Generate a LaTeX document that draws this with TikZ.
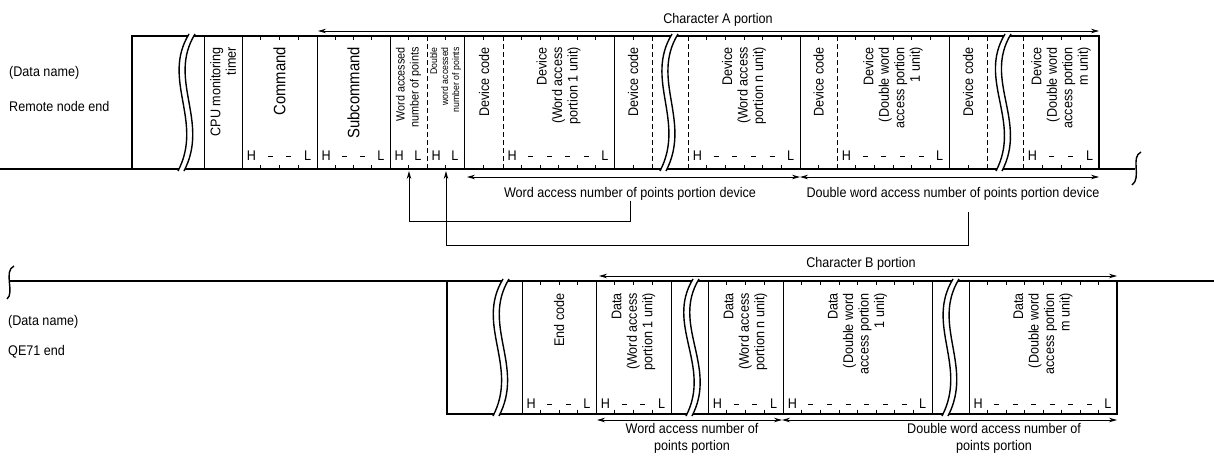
\documentclass[tikz,border=0pt]{standalone}
\usepackage{fontspec}
\setmainfont{Liberation Sans}[FakeStretch=0.9]
\usetikzlibrary{arrows.meta}
\newcommand\tix[5]{%
  \pgfmathsetmacro\tkw{(#2-#1)/#3}%
  \pgfmathtruncatemacro\tkm{#3-1}%
  \foreach \k in {1,...,\tkm}{%
    \draw[tick] ({#1+\k*\tkw},#4) -- ++(0,4);
    \draw[tick] ({#1+\k*\tkw},#5) -- ++(0,-4);
  }%
}
\newcommand\hlab[5]{%
  \pgfmathsetmacro\tkw{(#2-#1)/#3}%
  \node[hl] (H#5) at ({#1+0.5*\tkw},#4) {H};
  \node[hl] (L#5) at ({#2-0.5*\tkw},#4) {L};
  \ifnum#3>2
    \pgfmathtruncatemacro\tkm{#3-1}%
    \foreach \k in {2,...,\tkm}{%
      \draw[hdash] ({#1+(\k-0.5)*\tkw-2.5},#4) -- ++(5,0);
    }%
  \fi
}
\newcommand\mybrk[4]{%
  \pgfmathsetmacro\brkh{#3-#2}%
  \fill[white] (#1,#2-2) .. controls ({#1-28},{#2+0.33*\brkh}) and ({#1+26+#4},{#2+0.64*\brkh}) .. ({#1+#4},#3+2)
     -- ({#1+#4+6},#3+2) .. controls ({#1+32+#4},{#2+0.64*\brkh}) and ({#1-22},{#2+0.33*\brkh}) .. ({#1+6},#2-2) -- cycle;
  \draw[brkline] (#1,#2-2) .. controls ({#1-28},{#2+0.33*\brkh}) and ({#1+26+#4},{#2+0.64*\brkh}) .. ({#1+#4},#3+2);
  \draw[brkline] ({#1+6},#2-2) .. controls ({#1-22},{#2+0.33*\brkh}) and ({#1+32+#4},{#2+0.64*\brkh}) .. ({#1+#4+6},#3+2);
}
\begin{document}
\begin{tikzpicture}[x=1pt,y=-1pt,
  frame/.style={line width=1.8pt, line join=miter},
  sep/.style={line width=0.7pt},
  dsep/.style={line width=0.8pt, dash pattern=on 4.5pt off 3.5pt},
  tick/.style={line width=0.7pt},
  hdash/.style={line width=0.7pt},
  brkline/.style={line width=1.4pt},
  squig/.style={line width=1.4pt},
  dim/.style={line width=0.8pt, {Stealth[length=8pt,width=4.5pt]}-{Stealth[length=8pt,width=4.5pt]}},
  upar/.style={line width=0.8pt, -{Stealth[length=8pt,width=4.5pt]}},
  vt/.style={rotate=90, anchor=east, align=right, inner sep=0pt, font=\fontsize{14}{15.5}\selectfont},
  vtb/.style={vt, font=\fontsize{16.5}{18}\selectfont},
  vts/.style={vt, font=\fontsize{12}{14}\selectfont},
  vtt/.style={vt, font=\fontsize{9.7}{11}\selectfont},
  lab/.style={inner sep=0pt, align=center, font=\fontsize{14}{17}\selectfont},
  hl/.style={inner sep=0pt, font=\fontsize{14}{14}\selectfont},
]
\useasboundingbox (0,0) rectangle (1214,455);

% ================= top frame (Remote node end) =================
\draw[frame] (0,169) -- (1135,169);
\draw[frame] (132,169) -- (132,36) -- (1099,36) -- (1099,169);
\draw[squig] (1141,152) .. controls (1130,157) and (1142,178) .. (1132,185);

\foreach \x in {204,242,317,390,464,614,800,949} \draw[sep] (\x,36) -- (\x,169);
\foreach \x in {427,503,652,688,837,987,1023} \draw[dsep] (\x,36) -- (\x,169);

\tix{242}{317}{4}{36}{169}
\tix{317}{390}{4}{36}{169}
\tix{390}{427}{2}{36}{169}
\tix{427}{464}{2}{36}{169}
\tix{464}{503}{2}{36}{169}
\tix{503}{614}{6}{36}{169}
\tix{614}{652}{2}{36}{169}
\tix{688}{800}{6}{36}{169}
\tix{800}{837}{2}{36}{169}
\tix{837}{949}{6}{36}{169}
\tix{949}{987}{2}{36}{169}
\tix{1023}{1099}{4}{36}{169}

\mybrk{189}{36}{169}{-11}
\mybrk{672}{36}{169}{-12}
\mybrk{1005}{36}{169}{-9}

\hlab{242}{317}{4}{156}{a}
\hlab{317}{390}{4}{156}{b}
\hlab{390}{427}{2}{156}{c}
\hlab{427}{464}{2}{156}{d}
\hlab{503}{614}{6}{156}{e}
\hlab{688}{800}{6}{156}{f}
\hlab{837}{949}{6}{156}{g}
\hlab{1023}{1099}{4}{156}{h}

\node[vt] (cpu) at (223,47) {CPU monitoring\\timer};
\node[vtb] (cmd) at (279.5,47) {Command};
\node[vtb] (sub) at (353.5,47) {Subcommand};
\node[vts] (wan) at (408.5,47) {Word accessed\\number of points};
\node[vtt] (dwan) at (445.5,47) {Double\\word accessed\\number of points};
\node[vt] (dc1) at (484,47) {Device code};
\node[vt] (dv1) at (558.5,47) {Device\\(Word access\\portion 1 unit)};
\node[vt] (dc2) at (633,47) {Device code};
\node[vt] (dvn) at (744,47) {Device\\(Word access\\portion n unit)};
\node[vt] (dc3) at (818.5,47) {Device code};
\node[vt] (dvd1) at (893,47) {Device\\(Double word\\access portion\\1 unit)};
\node[vt] (dc4) at (968,47) {Device code};
\node[vt] (dvdm) at (1061,47) {Device\\(Double word\\access portion\\m unit)};

\node[lab, anchor=west] (dn1) at (9,73) {(Data name)};
\node[lab, anchor=west] (rne) at (9,106) {Remote node end};

% Character A portion
\coordinate (caL) at (318,31);
\coordinate (caR) at (1099,31);
\draw[dim] (caL) -- (caR);
\node[lab] (cat) at (718,20) {Character A portion};

% arrows below the top frame
\coordinate (wdL) at (467,177);
\coordinate (wdM) at (800,177);
\coordinate (wdR) at (1099,177);
\draw[dim] (wdL) -- (wdM);
\draw[dim] (wdM) -- (wdR);
\node[lab] (wtxt) at (630,194) {Word access number of points portion device};
\node[lab] (dtxt) at (953,194) {Double word access number of points portion device};

\coordinate (wa) at (409,171);
\coordinate (da) at (446,171);
\coordinate (c1) at (409,221);
\coordinate (c2) at (446,245);
\coordinate (c3) at (968,245);
\draw[upar] (wtxt.south) |- (c1) -- (wa);
\draw[upar] ([yshift=-11pt]dtxt.south -| c3) -- (c3) -- (c2) -- (da);

% ================= bottom frame (QE71 end) =================
\draw[frame] (10,281) -- (1214,281);
\draw[frame] (447,281) -- (447,414) -- (1117,414) -- (1117,281);
\draw[squig] (14,266) .. controls (3,271) and (15,293) .. (7,299);

\foreach \x in {522,596,671,708,783,932,969} \draw[sep] (\x,281) -- (\x,414);

\tix{522}{596}{4}{281}{414}
\tix{596}{671}{4}{281}{414}
\tix{708}{783}{4}{281}{414}
\tix{783}{932}{8}{281}{414}
\tix{969}{1117}{8}{281}{414}

\mybrk{503}{281}{414}{-10}
\mybrk{693}{281}{414}{-7}
\mybrk{953}{281}{414}{-11}

\hlab{522}{596}{4}{404}{i}
\hlab{596}{671}{4}{404}{j}
\hlab{708}{783}{4}{404}{k}
\hlab{783}{932}{8}{404}{l}
\hlab{969}{1117}{8}{404}{m}

\node[vt] (endc) at (559,293) {End code};
\node[vt] (d1) at (633.5,293) {Data\\(Word access\\portion 1 unit)};
\node[vt] (dn) at (745.5,293) {Data\\(Word access\\portion n unit)};
\node[vt] (dd1) at (857.5,293) {Data\\(Double word\\access portion\\1 unit)};
\node[vt] (ddm) at (1043,293) {Data\\(Double word\\access portion\\m unit)};

\node[lab, anchor=west] (dn2) at (8,322) {(Data name)};
\node[lab, anchor=west] (qe) at (8,352) {QE71 end};

% Character B portion
\coordinate (cbL) at (599,276);
\coordinate (cbR) at (1117,276);
\draw[dim] (cbL) -- (cbR);
\node[lab] (cbt) at (861,264) {Character B portion};

\coordinate (bwL) at (597,420);
\coordinate (bwM) at (782,420);
\coordinate (bwR) at (1117,420);
\draw[dim] (bwL) -- (bwM);
\draw[dim] (bwM) -- (bwR);
\node[lab] (bwt) at (692,438) {Word access number of\\points portion};
\node[lab] (bdt) at (994,438) {Double word access number of\\points portion};
\end{tikzpicture}
\end{document}
